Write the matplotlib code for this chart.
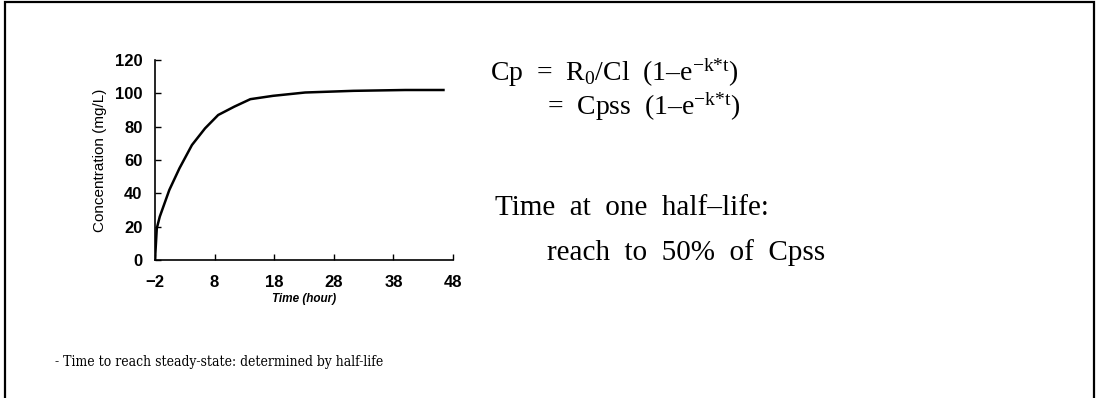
import matplotlib
matplotlib.use('Agg')
import matplotlib.pyplot as plt
from matplotlib.patches import Rectangle

plt.rcParams['mathtext.fontset'] = 'custom'
plt.rcParams['mathtext.rm'] = 'Liberation Serif'
plt.rcParams['mathtext.it'] = 'Liberation Serif:italic'

# infusion curve (hours, mg/L)
time_h = [-2.0, -1.7, -1.2, 0.4, 2.1, 4.2, 6.4, 8.6, 11.3, 14.0, 17.8, 23.2, 31.3, 40.0, 46.4]
conc = [0.0, 19.0, 26.0, 42.0, 55.0, 69.0, 79.0, 87.0, 92.0, 96.5, 98.5, 100.5, 101.5, 102.0, 102.0]

x_ticks = [-2, 8, 18, 28, 38, 48]
y_ticks = [0, 20, 40, 60, 80, 100, 120]

W, H = 1096, 398
fig = plt.figure(figsize=(W / 100, H / 100), dpi=100)


def fx(px):
    return px / W


def fy(py):
    return 1 - py / H


# frame around the slide (bottom edge runs off the image)
fig.patches.append(Rectangle((fx(5), fy(420)), fx(1089), fy(2) - fy(420),
                             transform=fig.transFigure, fill=False,
                             edgecolor='black', linewidth=1.6))

ax = fig.add_axes([fx(155), fy(260), fx(453 - 155), (260 - 60) / H])
ax.plot(time_h, conc, color='black', linewidth=1.8)
ax.set_xlim(-2, 48)
ax.set_ylim(0, 120)
ax.set_xticks(x_ticks)
ax.set_yticks(y_ticks)
for s in ['top', 'right']:
    ax.spines[s].set_visible(False)
for s in ['left', 'bottom']:
    ax.spines[s].set_linewidth(1.2)
ax.tick_params(direction='in', length=4, width=1.0, labelsize=12)
ax.tick_params(axis='x', pad=11)
ax.tick_params(axis='y', pad=9)
for lab in ax.get_xticklabels() + ax.get_yticklabels():
    lab.set_family('Liberation Sans')
    lab.set_fontweight('bold')
ax.set_ylabel('Concentration (mg/L)', family='Liberation Sans', fontsize=11, labelpad=6)
ax.set_xlabel('Time (hour)', family='Liberation Sans', fontsize=8.5, style='italic',
              fontweight='bold', labelpad=2)

serif = 'Liberation Serif'
sup = r'$^{\mathregular{-k{*}t}}$'
fig.text(fx(490), fy(73), 'Cp  =  R$_0$/Cl  (1\u2013e' + sup + ')',
         family=serif, fontsize=20, va='center', ha='left')
fig.text(fx(547), fy(107), '=  Cpss  (1\u2013e' + sup + ')',
         family=serif, fontsize=20, va='center', ha='left')
fig.text(fx(495), fy(208), 'Time  at  one  half\u2013life:',
         family=serif, fontsize=21, va='center', ha='left')
fig.text(fx(547), fy(253), 'reach  to  50%  of  Cpss',
         family=serif, fontsize=21, va='center', ha='left')
fig.text(fx(55), fy(362), '- Time to reach steady-state: determined by half-life',
         family='DejaVu Serif', stretch='condensed', fontsize=10, va='center', ha='left')

fig.savefig('out.png', dpi=100)
